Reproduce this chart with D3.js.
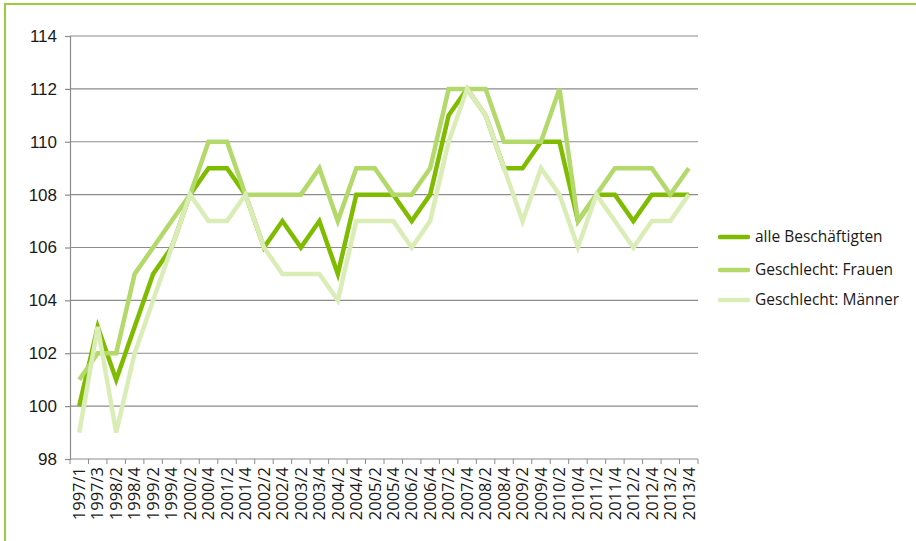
<!DOCTYPE html>
<html>
<head>
<meta charset="utf-8">
<script src="https://cdn.jsdelivr.net/npm/d3@7"></script>
<style>
  body { margin: 0; background: #fff; }
  svg { display: block; font-family: 'Open Sans', 'Noto Sans', sans-serif; }
</style>
</head>
<body>
<div id="chart"></div>
<script>
const quarters = ['1997/1', '1997/3', '1998/2', '1998/4', '1999/2', '1999/4', '2000/2', '2000/4',
  '2001/2', '2001/4', '2002/2', '2002/4', '2003/2', '2003/4', '2004/2', '2004/4', '2005/2', '2005/4',
  '2006/2', '2006/4', '2007/2', '2007/4', '2008/2', '2008/4', '2009/2', '2009/4', '2010/2', '2010/4',
  '2011/2', '2011/4', '2012/2', '2012/4', '2013/2', '2013/4'];

const alle = [100, 103, 101, 103, 105, 106, 108, 109, 109, 108, 106, 107, 106, 107, 105, 108, 108, 108,
  107, 108, 111, 112, 111, 109, 109, 110, 110, 107, 108, 108, 107, 108, 108, 108];
const frauen = [101, 102, 102, 105, 106, 107, 108, 110, 110, 108, 108, 108, 108, 109, 107, 109, 109, 108,
  108, 109, 112, 112, 112, 110, 110, 110, 112, 107, 108, 109, 109, 109, 108, 109];
const maenner = [99, 103, 99, 102, 104, 106, 108, 107, 107, 108, 106, 105, 105, 105, 104, 107, 107, 107,
  106, 107, 110, 112, 111, 109, 107, 109, 108, 106, 108, 107, 106, 107, 107, 108];

const yTicks = [98, 100, 102, 104, 106, 108, 110, 112, 114];

const series = [
  { name: 'alle Beschäftigten', values: alle, color: '#7fbc00' },
  { name: 'Geschlecht: Frauen', values: frauen, color: '#b3d96b' },
  { name: 'Geschlecht: Männer', values: maenner, color: '#dbedb7' }
];

const width = 916, height = 541;
const margin = { left: 70, top: 36, right: 218, bottom: 82 };
const w = width - margin.left - margin.right;
const h = height - margin.top - margin.bottom;

const svg = d3.select('#chart').append('svg')
    .attr('width', width)
    .attr('height', height);

// frame on top and left
svg.append('path')
    .attr('d', 'M5,' + height + 'V4H' + width)
    .attr('fill', 'none')
    .attr('stroke', '#9ccb3b')
    .attr('stroke-width', 2);

const g = svg.append('g')
    .attr('transform', 'translate(' + margin.left + ',' + margin.top + ')');

const x = d3.scalePoint()
    .domain(quarters)
    .range([0, w])
    .padding(0.5);

const y = d3.scaleLinear()
    .domain([98, 114])
    .range([h, 0]);

// gridlines
g.append('g')
    .selectAll('line')
    .data(yTicks.slice(1))
    .enter().append('line')
    .attr('x1', 0)
    .attr('x2', w)
    .attr('y1', d => y(d))
    .attr('y2', d => y(d))
    .attr('stroke', '#8c8c8c')
    .attr('stroke-width', 1.2);

const yAxis = g.append('g')
    .call(d3.axisLeft(y).tickValues(yTicks).tickSize(5).tickPadding(8));
yAxis.select('.domain').attr('stroke', '#8c8c8c').attr('stroke-width', 1.2);
yAxis.selectAll('.tick line').attr('stroke', '#8c8c8c').attr('stroke-width', 1.2);
yAxis.selectAll('.tick text')
    .attr('fill', '#1a1a1a')
    .style('font-size', '17px');

// x axis: ticks between categories
const step = x.step();
const xg = g.append('g').attr('transform', 'translate(0,' + h + ')');
xg.append('line')
    .attr('x1', 0).attr('x2', w)
    .attr('stroke', '#8c8c8c').attr('stroke-width', 1.2);
xg.selectAll('line.tk')
    .data(d3.range(quarters.length + 1))
    .enter().append('line')
    .attr('class', 'tk')
    .attr('x1', i => i * step)
    .attr('x2', i => i * step)
    .attr('y1', 0)
    .attr('y2', 5)
    .attr('stroke', '#8c8c8c');
xg.selectAll('text')
    .data(quarters)
    .enter().append('text')
    .attr('transform', d => 'translate(' + x(d) + ',8) rotate(-90)')
    .attr('text-anchor', 'end')
    .attr('dy', '0.35em')
    .attr('fill', '#1a1a1a')
    .style('font-size', '16.5px')
    .text(d => d);

const line = d3.line()
    .x((d, i) => x(quarters[i]))
    .y(d => y(d));

series.forEach(s => {
  g.append('path')
      .datum(s.values)
      .attr('fill', 'none')
      .attr('stroke', s.color)
      .attr('stroke-width', 4.5)
      .attr('stroke-linejoin', 'miter')
      .attr('d', line);
});

// legend
const legend = svg.append('g')
    .attr('transform', 'translate(720,237)');
const items = legend.selectAll('g')
    .data(series)
    .enter().append('g')
    .attr('transform', (d, i) => 'translate(0,' + [0, 33, 63][i] + ')');
items.append('line')
    .attr('x1', 0).attr('x2', 28)
    .attr('stroke', d => d.color)
    .attr('stroke-width', 4.5)
    .attr('stroke-linecap', 'round');
items.append('text')
    .attr('x', 35)
    .attr('dy', '0.35em')
    .attr('fill', '#1a1a1a')
    .style('font-size', '15.5px')
    .text(d => d.name);
</script>
</body>
</html>
